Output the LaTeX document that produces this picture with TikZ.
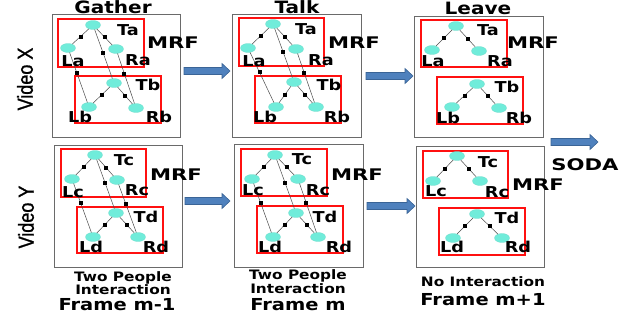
\documentclass[tikz,border=0pt]{standalone}
\usepackage{fontspec}
\usetikzlibrary{shapes.geometric,fit}
\newfontfamily\lblf{DejaVu Sans}[FakeStretch=1.18]
\newfontfamily\vidf{Liberation Sans}[FakeBold=1.2]
\definecolor{turq}{HTML}{70ECDA}
\definecolor{arrblue}{HTML}{4F81BD}
\definecolor{arredge}{HTML}{3A6496}
\definecolor{boxgray}{HTML}{6A6A6A}
\definecolor{boxred}{HTML}{FF1010}
\newcommand{\blockarrow}[3]{\filldraw[fill=arrblue,draw=arredge,line width=0.6pt] (#1,#3-3.5) -- (#2-8,#3-3.5) -- (#2-8,#3-7.5) -- (#2,#3) -- (#2-8,#3+7.5) -- (#2-8,#3+3.5) -- (#1,#3+3.5) -- cycle;}
\tikzset{
  graybox/.style={draw=boxgray,line width=0.8pt,inner sep=0pt},
  redbox/.style={draw=boxred,line width=1.2pt,inner sep=0pt},
  nd/.style={ellipse,fill=turq,draw=turq!85!gray,line width=0.3pt,minimum width=15pt,minimum height=9pt,inner sep=0pt},
  lbl/.style={font=\lblf\bfseries\fontsize{15}{15}\selectfont,inner sep=0pt},
  mrf/.style={font=\lblf\bfseries\fontsize{16}{16}\selectfont,inner sep=0pt},
  ttl/.style={font=\lblf\bfseries\fontsize{17}{17}\selectfont,inner sep=0pt},
  sub/.style={font=\lblf\bfseries\fontsize{13}{13}\selectfont,inner sep=0pt},
  frm/.style={font=\lblf\bfseries\fontsize{16.5}{16.5}\selectfont,inner sep=0pt},
  vid/.style={font=\vidf\fontsize{18}{18}\selectfont,inner sep=0pt,rotate=90},
  edge/.style={draw=black!70,line width=0.5pt},
  sq/.style={rectangle,fill=black,minimum size=4pt,inner sep=0pt},
}
\begin{document}
\begin{tikzpicture}[x=1pt,y=-1pt]
\useasboundingbox (0,0) rectangle (628,314);
\fill[white] (0,0) rectangle (628,314);

% ---------- Panel 1 : Gather ----------
\node[graybox,fit={(52,14) (180,137)}] (g1) {};
\node[redbox,fit={(58,19) (144,67)}] (r1a) {};
\node[redbox,fit={(75,76) (161,123)}] (r1b) {};
\node[nd] (p1Ta) at (93,25) {};
\node[nd] (p1La) at (68,48) {};
\node[nd] (p1Ra) at (116,49) {};
\node[nd] (p1Tb) at (114,83) {};
\node[nd] (p1Lb) at (89,107) {};
\node[nd] (p1Rb) at (136,108) {};
\draw[edge] (p1Ta) -- node[sq]{} (p1La);
\draw[edge] (p1Ta) -- node[sq]{} (p1Ra);
\draw[edge] (p1Tb) -- node[sq]{} (p1Lb);
\draw[edge] (p1Tb) -- node[sq]{} (p1Rb);
\draw[edge] (p1Ta) -- node[sq,pos=0.47]{} (p1Tb);
\draw[edge] (p1La) -- node[sq,pos=0.4]{} (p1Lb);
\draw[edge] (p1Ra) -- node[sq,pos=0.4]{} (p1Rb);
\node[lbl] (t1Ta) at (128,30) {Ta};
\node[lbl] (t1La) at (73,61) {La};
\node[lbl] (t1Ra) at (138,60) {Ra};
\node[lbl] (t1Tb) at (148,85) {Tb};
\node[lbl] (t1Lb) at (80,117) {Lb};
\node[lbl] (t1Rb) at (159,117) {Rb};
\node[mrf] (m1) at (173,43) {\scalebox{1.12}[1]{MRF}};
\node[ttl] (h1) at (113,7) {Gather};

% ---------- Panel 2 : Talk ----------
\node[graybox,fit={(232,14) (361,137)}] (g2) {};
\node[redbox,fit={(239,18) (324,66)}] (r2a) {};
\node[redbox,fit={(255,76) (341,123)}] (r2b) {};
\node[nd] (p2Ta) at (273,24) {};
\node[nd] (p2La) at (248,48) {};
\node[nd] (p2Ra) at (296,49) {};
\node[nd] (p2Tb) at (294,82) {};
\node[nd] (p2Lb) at (276,107) {};
\node[nd] (p2Rb) at (316,107) {};
\draw[edge] (p2Ta) -- node[sq]{} (p2La);
\draw[edge] (p2Ta) -- node[sq]{} (p2Ra);
\draw[edge] (p2Tb) -- node[sq]{} (p2Lb);
\draw[edge] (p2Tb) -- node[sq]{} (p2Rb);
\draw[edge] (p2Ta) -- node[sq,pos=0.47]{} (p2Tb);
\draw[edge] (p2La) -- node[sq,pos=0.4]{} (p2Lb);
\draw[edge] (p2Ra) -- node[sq,pos=0.4]{} (p2Rb);
\node[lbl] (t2Ta) at (306,29) {Ta};
\node[lbl] (t2La) at (254,61) {La};
\node[lbl] (t2Ra) at (321,60) {Ra};
\node[lbl] (t2Tb) at (329,85) {Tb};
\node[lbl] (t2Lb) at (265,117) {Lb};
\node[lbl] (t2Rb) at (337,117) {Rb};
\node[mrf] (m2) at (354,43) {\scalebox{1.12}[1]{MRF}};
\node[ttl] (h2) at (297,7) {Talk};

% ---------- Panel 3 : Leave ----------
\node[graybox,fit={(414,16) (543,137)}] (g3) {};
\node[redbox,fit={(421,20) (507,67)}] (r3a) {};
\node[redbox,fit={(437,77) (523,124)}] (r3b) {};
\node[nd] (p3Ta) at (456,26) {};
\node[nd] (p3La) at (432,50) {};
\node[nd] (p3Ra) at (479,51) {};
\node[nd] (p3Tb) at (477,84) {};
\node[nd] (p3Lb) at (452,107) {};
\node[nd] (p3Rb) at (499,108) {};
\draw[edge] (p3Ta) -- node[sq]{} (p3La);
\draw[edge] (p3Ta) -- node[sq]{} (p3Ra);
\draw[edge] (p3Tb) -- node[sq]{} (p3Lb);
\draw[edge] (p3Tb) -- node[sq]{} (p3Rb);
\node[lbl] (t3Ta) at (488,30) {Ta};
\node[lbl] (t3La) at (433,61) {La};
\node[lbl] (t3Ra) at (500,61) {Ra};
\node[lbl] (t3Tb) at (507,87) {Tb};
\node[lbl] (t3Lb) at (448,118) {Lb};
\node[lbl] (t3Rb) at (519,118) {Rb};
\node[mrf] (m3) at (533,43) {\scalebox{1.12}[1]{MRF}};
\node[ttl] (h3) at (478,8) {Leave};

% ---------- Panel 4 : Frame m-1 ----------
\node[graybox,fit={(54,145) (182,267)}] (g4) {};
\node[redbox,fit={(61,149) (146,197)}] (r4c) {};
\node[redbox,fit={(77,207) (163,253)}] (r4d) {};
\node[nd] (p4Tc) at (95,155) {};
\node[nd] (p4Lc) at (72,179) {};
\node[nd] (p4Rc) at (117,180) {};
\node[nd] (p4Td) at (116,213) {};
\node[nd] (p4Ld) at (93,237) {};
\node[nd] (p4Rd) at (138,237) {};
\draw[edge] (p4Tc) -- node[sq]{} (p4Lc);
\draw[edge] (p4Tc) -- node[sq]{} (p4Rc);
\draw[edge] (p4Td) -- node[sq]{} (p4Ld);
\draw[edge] (p4Td) -- node[sq]{} (p4Rd);
\draw[edge] (p4Tc) -- node[sq,pos=0.47]{} (p4Td);
\draw[edge] (p4Lc) -- node[sq,pos=0.4]{} (p4Ld);
\draw[edge] (p4Rc) -- node[sq,pos=0.4]{} (p4Rd);
\node[lbl] (t4Tc) at (124,160) {Tc};
\node[lbl] (t4Lc) at (73,192) {Lc};
\node[lbl] (t4Rc) at (137,190) {Rc};
\node[lbl] (t4Td) at (146,217) {Td};
\node[lbl] (t4Ld) at (91,247) {Ld};
\node[lbl] (t4Rd) at (156,247) {Rd};
\node[mrf] (m4) at (176,175) {\scalebox{1.12}[1]{MRF}};
\node[sub] (s4a) at (123,278) {Two People};
\node[sub] (s4b) at (123,290) {Interaction};
\node[frm] (f4) at (117,305) {Frame m-1};

% ---------- Panel 5 : Frame m ----------
\node[graybox,fit={(234,144) (363,267)}] (g5) {};
\node[redbox,fit={(241,149) (327,196)}] (r5c) {};
\node[redbox,fit={(257,206) (343,253)}] (r5d) {};
\node[nd] (p5Tc) at (275,155) {};
\node[nd] (p5Lc) at (252,179) {};
\node[nd] (p5Rc) at (298,179) {};
\node[nd] (p5Td) at (296,213) {};
\node[nd] (p5Ld) at (273,237) {};
\node[nd] (p5Rd) at (318,237) {};
\draw[edge] (p5Tc) -- node[sq]{} (p5Lc);
\draw[edge] (p5Tc) -- node[sq]{} (p5Rc);
\draw[edge] (p5Td) -- node[sq]{} (p5Ld);
\draw[edge] (p5Td) -- node[sq]{} (p5Rd);
\draw[edge] (p5Tc) -- node[sq,pos=0.47]{} (p5Td);
\draw[edge] (p5Lc) -- node[sq,pos=0.4]{} (p5Ld);
\draw[edge] (p5Rc) -- node[sq,pos=0.4]{} (p5Rd);
\node[lbl] (t5Tc) at (302,159) {Tc};
\node[lbl] (t5Lc) at (253,190) {Lc};
\node[lbl] (t5Rc) at (318,190) {Rc};
\node[lbl] (t5Td) at (325,217) {Td};
\node[lbl] (t5Ld) at (270,247) {Ld};
\node[lbl] (t5Rd) at (339,247) {Rd};
\node[mrf] (m5) at (357,175) {\scalebox{1.12}[1]{MRF}};
\node[sub] (s5a) at (298,276) {Two People};
\node[sub] (s5b) at (298,288.5) {Interaction};
\node[frm] (f5) at (298,305) {Frame m};

% ---------- Panel 6 : Frame m+1 ----------
\node[graybox,fit={(416,146) (544,267)}] (g6) {};
\node[redbox,fit={(423,151) (508,198)}] (r6c) {};
\node[redbox,fit={(439,208) (525,255)}] (r6d) {};
\node[nd] (p6Tc) at (457,156) {};
\node[nd] (p6Lc) at (433,181) {};
\node[nd] (p6Rc) at (480,181) {};
\node[nd] (p6Td) at (477,214) {};
\node[nd] (p6Ld) at (453,238) {};
\node[nd] (p6Rd) at (502,238) {};
\draw[edge] (p6Tc) -- node[sq]{} (p6Lc);
\draw[edge] (p6Tc) -- node[sq]{} (p6Rc);
\draw[edge] (p6Td) -- node[sq]{} (p6Ld);
\draw[edge] (p6Td) -- node[sq]{} (p6Rd);
\node[lbl] (t6Tc) at (488,162) {Tc};
\node[lbl] (t6Lc) at (436,191) {Lc};
\node[lbl] (t6Rc) at (497,192) {Rc};
\node[lbl] (t6Td) at (507,218) {Td};
\node[lbl] (t6Ld) at (452,247) {Ld};
\node[lbl] (t6Rd) at (518,247) {Rd};
\node[mrf] (m6) at (538,185) {\scalebox{1.12}[1]{MRF}};
\node[sub] (s6a) at (483,282) {No Interaction};
\node[frm] (f6) at (483,300) {Frame m+1};

% ---------- arrows ----------
\blockarrow{184}{230}{71}
\blockarrow{366}{413}{76}
\blockarrow{185}{230}{201}
\blockarrow{367}{415}{206}
\blockarrow{551}{598}{142}
\node[mrf] (soda) at (585,165) {\scalebox{1.12}[1]{SODA}};

% ---------- row labels ----------
\node[vid] (vx) at (25,79) {\scalebox{1}[1.2]{Video X}};
\node[vid] (vy) at (26,217) {\scalebox{1}[1.2]{Video Y}};
\end{tikzpicture}
\end{document}
